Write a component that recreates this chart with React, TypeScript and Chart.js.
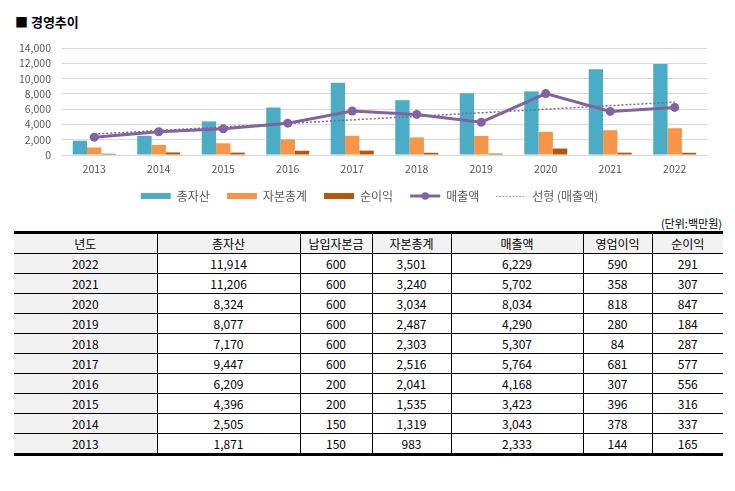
import React, { useEffect, useRef } from "react";
import { Chart, registerables } from "chart.js";

Chart.register(...registerables);

const years = ["2013", "2014", "2015", "2016", "2017", "2018", "2019", "2020", "2021", "2022"];
const totalAssets = [1871, 2505, 4396, 6209, 9447, 7170, 8077, 8324, 11206, 11914];
const totalEquity = [983, 1319, 1535, 2041, 2516, 2303, 2487, 3034, 3240, 3501];
const netIncome = [165, 337, 316, 556, 577, 287, 184, 847, 307, 291];
const revenue = [2333, 3043, 3423, 4168, 5764, 5307, 4290, 8034, 5702, 6229];
const revenueTrend = [2739, 3204, 3668, 4133, 4597, 5062, 5526, 5991, 6455, 6920];
const paidInCapital = [150, 150, 200, 200, 600, 600, 600, 600, 600, 600];
const operatingIncome = [144, 378, 396, 307, 681, 84, 280, 818, 358, 590];

const seriesNames = ["총자산", "자본총계", "순이익", "매출액", "선형 (매출액)"];
const tableHeaders = ["년도", "총자산", "납입자본금", "자본총계", "매출액", "영업이익", "순이익"];
const colWidths = [143, 143, 72, 79, 132, 69, 71];

const BLUE = "#4BACC6";
const ORANGE = "#F79646";
const BROWN = "#B65708";
const PURPLE = "#8064A2";
const FONT = "'Noto Sans CJK KR', 'Noto Sans', sans-serif";
const LEGEND_SHIFT = 16;

const fmt = (v: number) => v.toLocaleString("en-US");

function makeLineMarker(withDot: boolean): HTMLCanvasElement {
  const c = document.createElement("canvas");
  c.width = 32;
  c.height = 10;
  const ctx = c.getContext("2d")!;
  ctx.strokeStyle = PURPLE;
  ctx.fillStyle = PURPLE;
  if (withDot) {
    ctx.lineWidth = 3;
    ctx.beginPath();
    ctx.moveTo(1, 5);
    ctx.lineTo(31, 5);
    ctx.stroke();
    ctx.beginPath();
    ctx.arc(16, 5, 3.8, 0, Math.PI * 2);
    ctx.fill();
  } else {
    ctx.lineWidth = 1.2;
    ctx.setLineDash([1.3, 2]);
    ctx.beginPath();
    ctx.moveTo(1, 5.5);
    ctx.lineTo(31, 5.5);
    ctx.stroke();
  }
  return c;
}

const legendShiftPlugin = {
  id: "legendShift",
  afterLayout(chart: any) {
    const legend = chart.legend;
    if (!legend) return;
    legend.left += LEGEND_SHIFT;
    legend.right += LEGEND_SHIFT;
    if (typeof legend.adjustHitBoxes === "function") legend.adjustHitBoxes();
  },
};

function ChartBlock() {
  const ref = useRef<HTMLCanvasElement>(null);
  useEffect(() => {
    if (!ref.current) return;
    Chart.defaults.font.family = FONT;
    const lineMarker = makeLineMarker(true);
    const trendMarker = makeLineMarker(false);
    const chart = new Chart(ref.current, {
      type: "bar",
      data: {
        labels: years,
        datasets: [
          { type: "bar", label: seriesNames[0], data: totalAssets, backgroundColor: BLUE, order: 2 },
          { type: "bar", label: seriesNames[1], data: totalEquity, backgroundColor: ORANGE, order: 2 },
          { type: "bar", label: seriesNames[2], data: netIncome, backgroundColor: BROWN, order: 2 },
          {
            type: "line",
            label: seriesNames[3],
            data: revenue,
            borderColor: PURPLE,
            backgroundColor: PURPLE,
            borderWidth: 3,
            pointRadius: 4.5,
            pointBackgroundColor: PURPLE,
            pointBorderWidth: 0,
            tension: 0,
            order: 0,
          },
          {
            type: "line",
            label: seriesNames[4],
            data: revenueTrend,
            borderColor: PURPLE,
            backgroundColor: PURPLE,
            borderWidth: 1.5,
            borderDash: [2, 2],
            pointRadius: 0,
            tension: 0,
            order: 1,
          },
        ] as any,
      },
      options: {
        animation: false,
        responsive: false,
        maintainAspectRatio: false,
        layout: { padding: { left: 0, right: 28, top: 18, bottom: 0 } },
        datasets: {
          bar: { barPercentage: 1, categoryPercentage: 0.667 },
        } as any,
        scales: {
          x: {
            grid: { display: false, drawTicks: false },
            border: { display: true, color: "#d9d9d9" },
            ticks: { color: "#595959", font: { size: 10.5 }, padding: 8, autoSkip: false, maxRotation: 0 },
            afterFit: (s: any) => {
              s.height = 18;
            },
          },
          y: {
            min: 0,
            max: 14000,
            ticks: {
              stepSize: 2000,
              autoSkip: false,
              color: "#595959",
              font: { size: 10.5 },
              padding: 11,
              callback: (v: any) => fmt(Number(v)),
            },
            grid: { color: "#d9d9d9", drawTicks: false },
            border: { display: false },
            afterFit: (s: any) => {
              s.width = 62;
            },
          },
        },
        plugins: {
          tooltip: { enabled: false },
          legend: {
            position: "bottom",
            labels: {
              usePointStyle: true,
              pointStyleWidth: 30,
              boxHeight: 6,
              padding: 17,
              color: "#595959",
              font: { size: 12 },
              sort: (a: any, b: any) => a.datasetIndex - b.datasetIndex,
              generateLabels: (c: any) => {
                const items = Chart.defaults.plugins.legend.labels.generateLabels(c);
                return items.map((it: any) => {
                  const i = it.datasetIndex;
                  if (i < 3) return { ...it, pointStyle: "rect", lineWidth: 0 };
                  if (i === 3) return { ...it, pointStyle: lineMarker, lineWidth: 0 };
                  return { ...it, pointStyle: trendMarker, lineWidth: 0 };
                });
              },
            },
          },
        },
      },
      plugins: [legendShiftPlugin],
    });
    return () => chart.destroy();
  }, []);
  return <canvas ref={ref} width={735} height={182} style={{ display: "block", width: 735, height: 182 }} />;
}

export default function App() {
  const rows = years
    .map((y, i) => ({
      year: y,
      cells: [totalAssets[i], paidInCapital[i], totalEquity[i], revenue[i], operatingIncome[i], netIncome[i]],
    }))
    .reverse();

  const cellBase: React.CSSProperties = {
    padding: 0,
    height: 19,
    lineHeight: "19px",
    textAlign: "center",
    fontSize: 12,
    color: "#000",
    borderTop: "1px solid #000",
    borderBottom: "1px solid #000",
    borderLeft: "1px solid #000",
    borderRight: "1px solid #000",
    whiteSpace: "nowrap",
  };

  return (
    <div style={{ position: "absolute", left: 0, top: 0, width: 735, height: 491, fontFamily: FONT, background: "#fff" }}>
      <div style={{ position: "absolute", left: 15, top: 13, fontSize: 13, fontWeight: 700, lineHeight: "18px", color: "#000" }}>
        ■ 경영추이
      </div>
      <div style={{ position: "absolute", left: 0, top: 30, width: 735, height: 182 }}>
        <ChartBlock />
      </div>
      <div style={{ position: "absolute", right: 13, top: 216, fontSize: 11, lineHeight: "14px", color: "#000" }}>
        (단위:백만원)
      </div>
      <table
        style={{
          position: "absolute",
          left: 14,
          top: 231,
          width: 709,
          borderCollapse: "collapse",
          tableLayout: "fixed",
          borderTop: "3px solid #000",
          borderBottom: "3px solid #000",
          borderLeft: "none",
          borderRight: "none",
        }}
      >
        <colgroup>
          {colWidths.map((w, i) => (
            <col key={i} style={{ width: w }} />
          ))}
        </colgroup>
        <thead>
          <tr>
            {tableHeaders.map((h, i) => (
              <th
                key={h}
                style={{
                  ...cellBase,
                  fontWeight: 400,
                  background: "#f2f2f2",
                  borderTop: "3px solid #000",
                  borderLeft: i === 0 ? "none" : "1px solid #000",
                  borderRight: i === tableHeaders.length - 1 ? "none" : "1px solid #000",
                }}
              >
                {h}
              </th>
            ))}
          </tr>
        </thead>
        <tbody>
          {rows.map((r, ri) => (
            <tr key={r.year}>
              <td
                style={{
                  ...cellBase,
                  background: "#f2f2f2",
                  borderLeft: "none",
                  borderBottom: ri === rows.length - 1 ? "3px solid #000" : "1px solid #000",
                }}
              >
                {r.year}
              </td>
              {r.cells.map((v, ci) => (
                <td
                  key={ci}
                  style={{
                    ...cellBase,
                    borderRight: ci === r.cells.length - 1 ? "none" : "1px solid #000",
                    borderBottom: ri === rows.length - 1 ? "3px solid #000" : "1px solid #000",
                  }}
                >
                  {fmt(v)}
                </td>
              ))}
            </tr>
          ))}
        </tbody>
      </table>
    </div>
  );
}
